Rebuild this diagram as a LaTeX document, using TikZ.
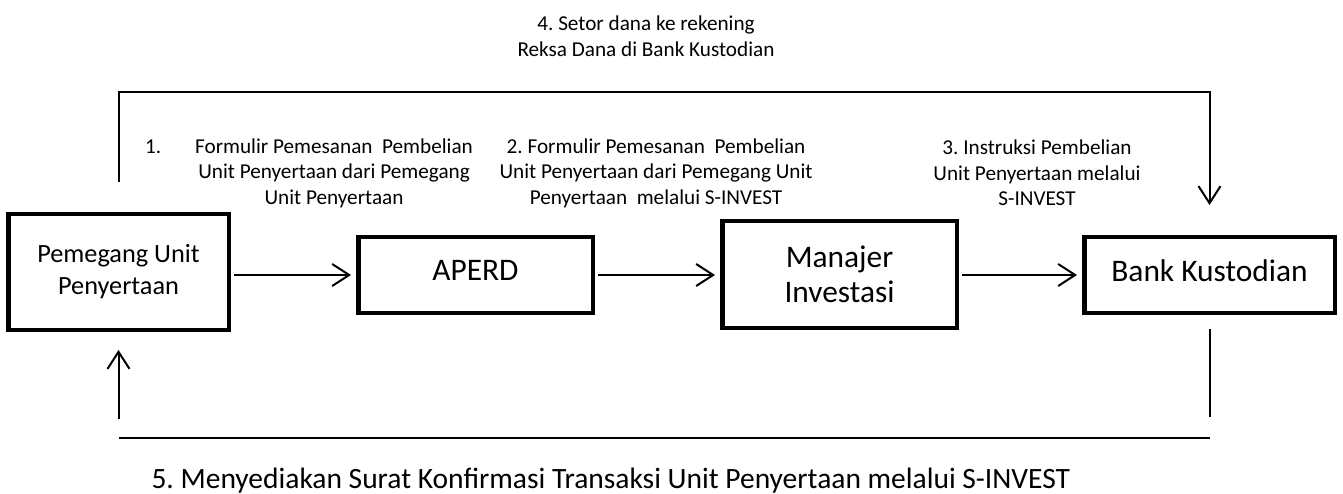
\documentclass[tikz,border=0pt]{standalone}
\usepackage{fontspec}
\setmainfont{Carlito}
\usetikzlibrary{arrows.meta,positioning}
\frenchspacing

\begin{document}
\begin{tikzpicture}[x=1pt, y=-1pt,
		box/.style={draw, line width=4.5pt, align=center, inner sep=0pt},
		flow/.style={line width=2pt},
		conn/.style={flow, -{Straight Barb[length=17pt,width=22pt,line width=2pt]}},
		lbl/.style={align=center, font=\fontsize{21.2}{25.5}\selectfont}]
		\useasboundingbox (0,0) rectangle (1343,494);
		% Kotak {{{
		\node[box, minimum width=220.5pt, minimum height=115.5pt, font=\fontsize{26.3}{32}\selectfont] (pup) at (118.5,272) {Pemegang Unit\\Penyertaan};
		\node[box, minimum width=234.5pt, minimum height=75.5pt, text depth=9pt, font=\fontsize{31.4}{38}\selectfont] (aperd) at (475.5,275) {APERD};
		\node[box, minimum width=234.5pt, minimum height=106.5pt, font=\fontsize{31.4}{35}\selectfont] (mi) at (839.5,274.5) {Manajer\\Investasi};
		\node[box, minimum width=250.5pt, minimum height=75.5pt, text depth=9pt, font=\fontsize{31.4}{38}\selectfont] (bk) at (1209.5,275) {Bank Kustodian};
		% }}}
		% Keterangan {{{
		\node[lbl] (lab1) at (334,173) {\llap{1.\hspace{34pt}}Formulir Pemesanan\ \ Pembelian\\Unit Penyertaan dari Pemegang\\Unit Penyertaan};
		\node[lbl] (lab2) at (656,173) {2. Formulir Pemesanan\ \ Pembelian\\Unit Penyertaan dari Pemegang Unit\\Penyertaan\ \ melalui S-INVEST};
		\node[lbl] (lab3) at (1037,173) {3. Instruksi Pembelian\\Unit Penyertaan melalui\\S-INVEST};
		\node[lbl] (lab4) at (646,36) {4. Setor dana ke rekening\\Reksa Dana di Bank Kustodian};
		\node[anchor=west, font=\fontsize{29.5}{35}\selectfont] (lab5) at (148,481) {5. Menyediakan Surat Konfirmasi Transaksi Unit Penyertaan melalui S-INVEST};
		% }}}
		% Panah {{{
		\draw[conn, shorten <=3pt, shorten >=5pt] (pup.east |- aperd) -- (aperd.west);
		\draw[conn, shorten <=3pt, shorten >=5pt] (aperd.east) -- (mi.west |- aperd);
		\draw[conn, shorten <=3pt, shorten >=5pt] (mi.east |- bk) -- (bk.west);
		\coordinate (tl) at (118,92);
		\draw[conn] ([yshift=30pt]pup.north) -- (pup.north |- tl) -| ([yshift=30pt]bk.north);
		\coordinate (bl) at (119,438);
		\coordinate (br) at (bk.south |- bl);
		\coordinate (lb) at (pup.south |- bl);
		\draw[flow] (bl) -- (br);
		\draw[flow] ([yshift=-14pt]bk.south) -- ([yshift=21pt]br);
		\draw[conn] ([yshift=19pt]lb) -- ([yshift=-18pt]pup.south);
		% }}}
\end{tikzpicture}
\end{document}
